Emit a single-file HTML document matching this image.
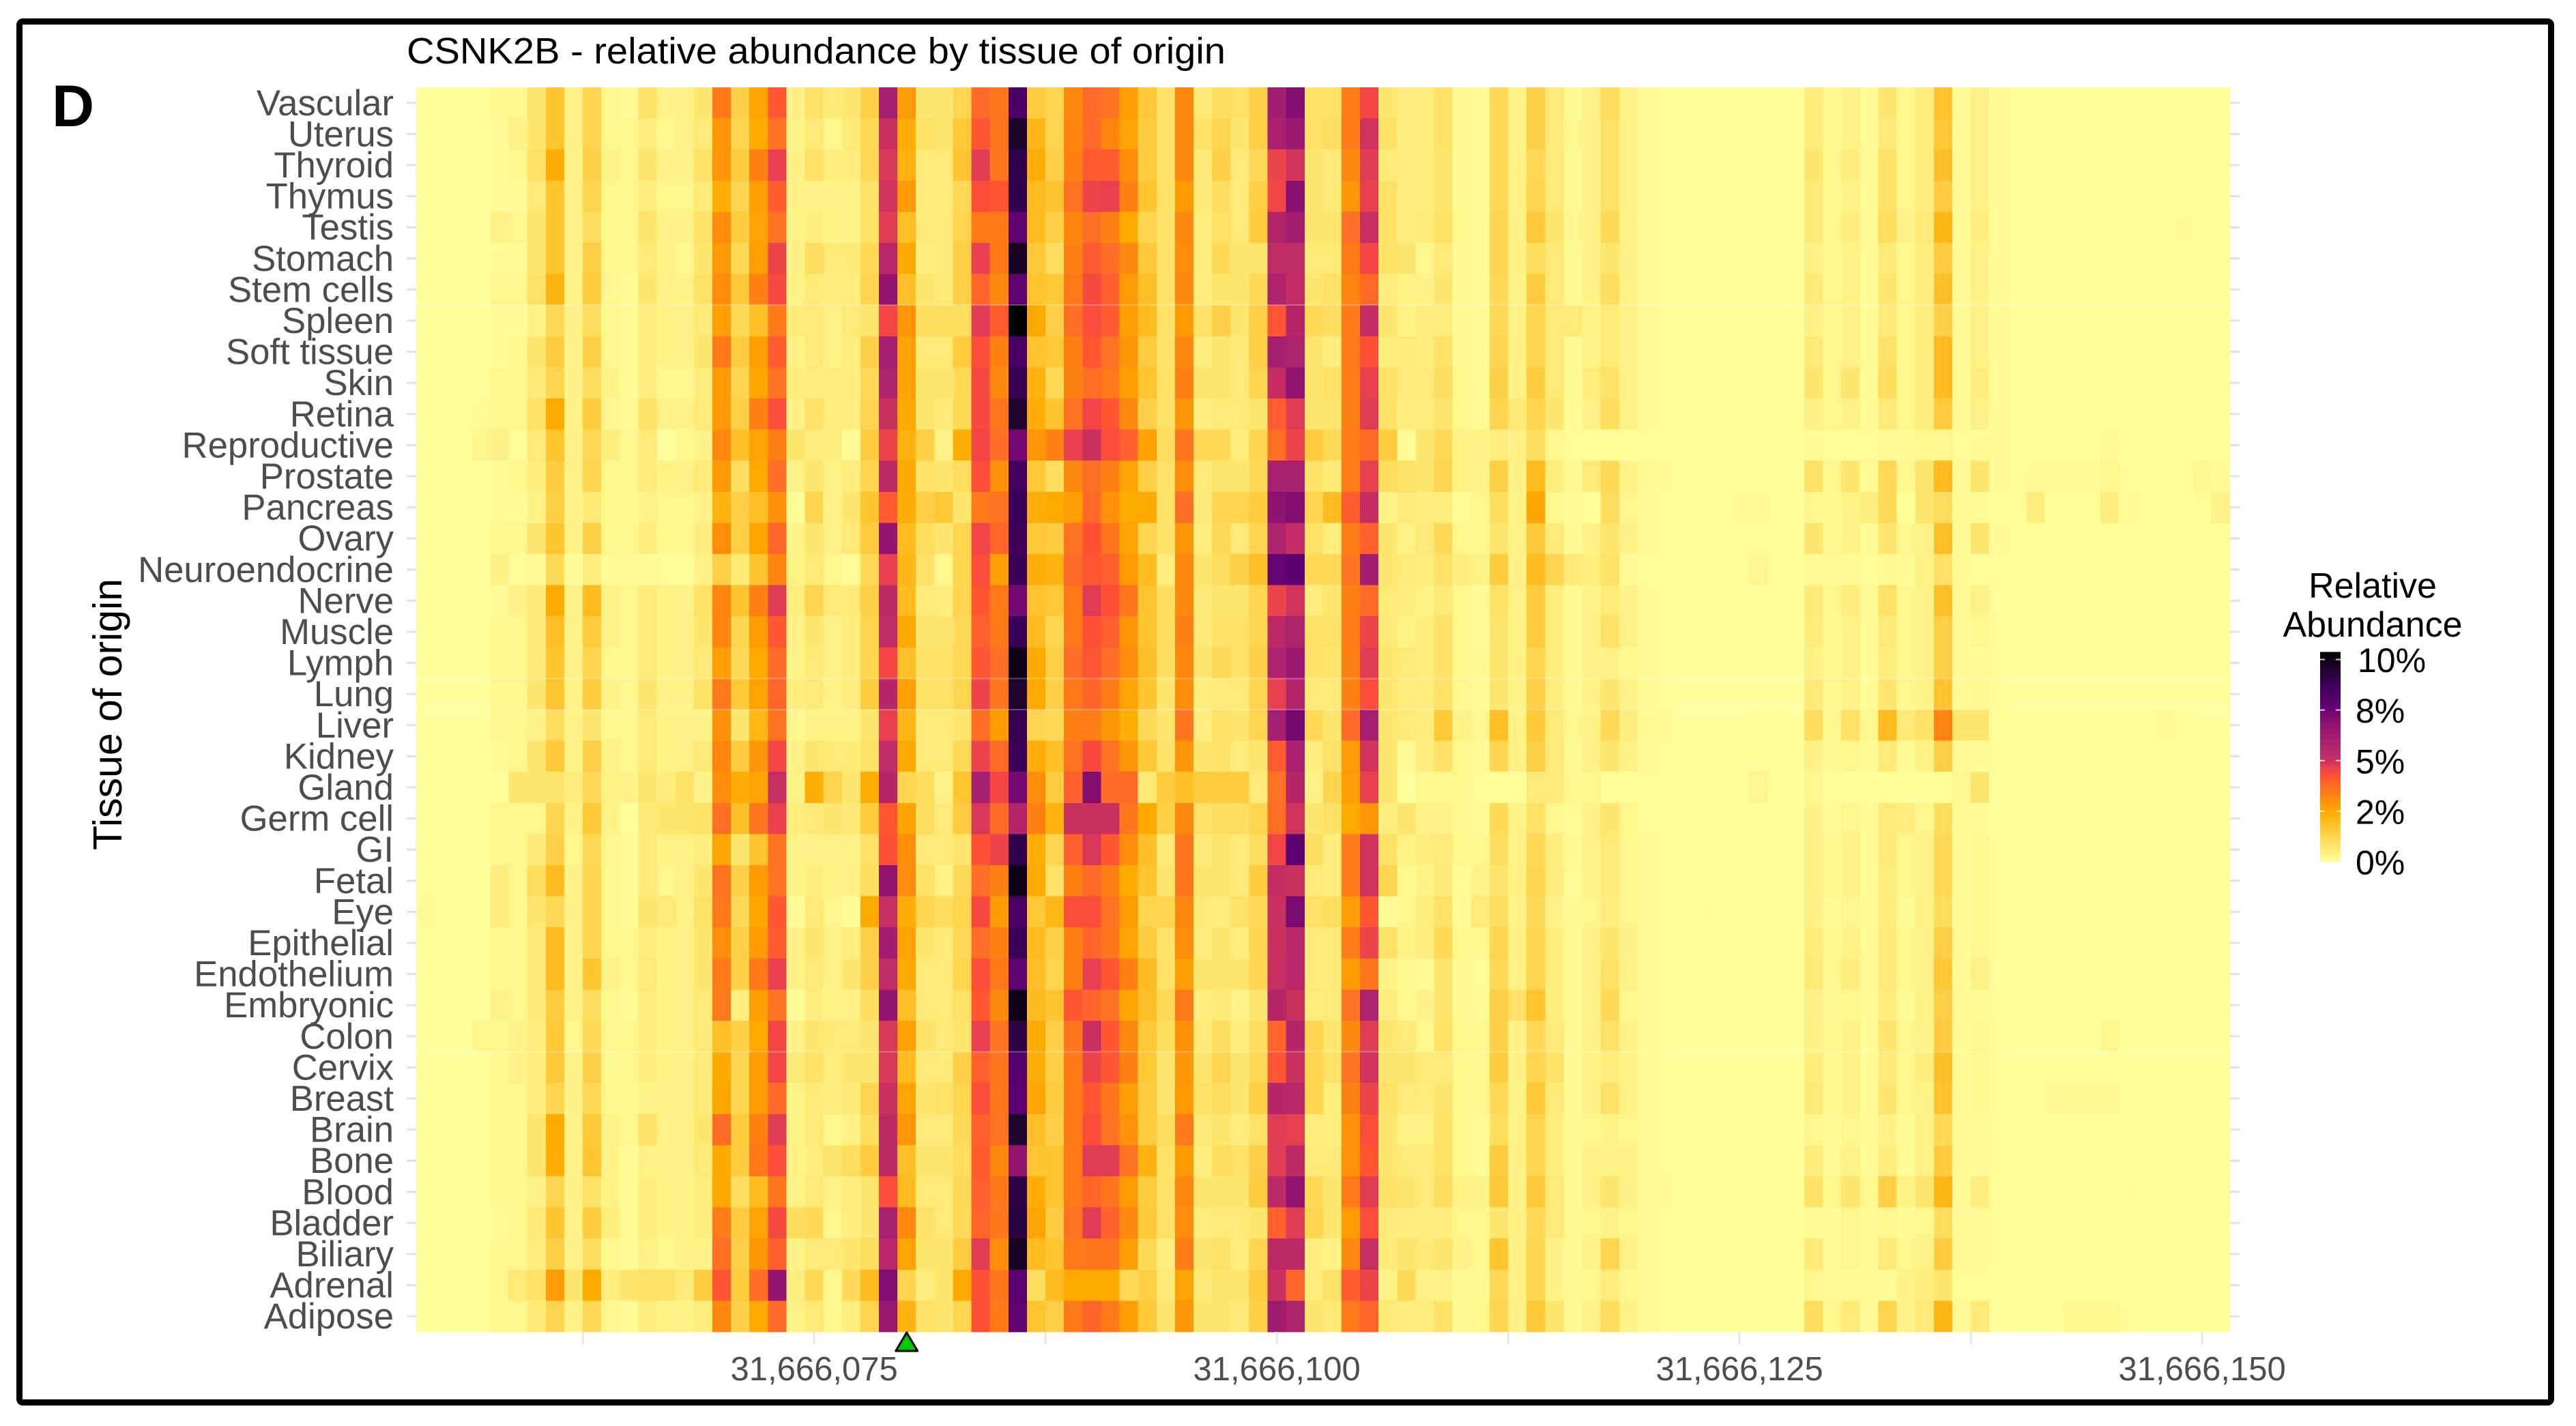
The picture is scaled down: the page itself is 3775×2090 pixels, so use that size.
<!DOCTYPE html>
<html lang="en">
<head>
<meta charset="utf-8">
<title>CSNK2B - relative abundance by tissue of origin</title>
<style>
html,body{margin:0;padding:0;background:#fff;}
svg{display:block;font-family:"Liberation Sans",Arial,sans-serif;}
</style>
</head>
<body>
<svg id="chart" xmlns="http://www.w3.org/2000/svg" width="3775" height="2090" viewBox="0 0 3775 2090">
  <rect x="0" y="0" width="3775" height="2090" fill="#ffffff"/>
  <rect x="28.5" y="31.5" width="3710" height="2024" rx="5" fill="none" stroke="#000000" stroke-width="9"/>
  <text x="76" y="185" font-size="86" font-weight="700" fill="#000">D</text>
  <text x="596" y="93" font-size="54" fill="#000" textLength="1200" lengthAdjust="spacingAndGlyphs">CSNK2B - relative abundance by tissue of origin</text>
  <text transform="translate(178,1047) rotate(-90)" text-anchor="middle" font-size="59" fill="#000">Tissue of origin</text>
  <g id="cells" shape-rendering="crispEdges"></g>
  <g id="y-axis"></g>
  <g id="x-axis"></g>
  <polygon id="marker" fill="#00c800" stroke="#000" stroke-width="3" stroke-linejoin="round"/>
  <g id="legend">
    <text x="3477" y="876" text-anchor="middle" font-size="52" fill="#000">Relative</text>
    <text x="3477" y="933" text-anchor="middle" font-size="52" fill="#000">Abundance</text>
  </g>
</svg>
<script>
const tissues = ["Vascular","Uterus","Thyroid","Thymus","Testis","Stomach","Stem cells","Spleen","Soft tissue","Skin","Retina","Reproductive","Prostate","Pancreas","Ovary","Neuroendocrine","Nerve","Muscle","Lymph","Lung","Liver","Kidney","Gland","Germ cell","GI","Fetal","Eye","Epithelial","Endothelium","Embryonic","Colon","Cervix","Breast","Brain","Bone","Blood","Bladder","Biliary","Adrenal","Adipose"];
const firstPosition = 31666054;
const xTickValues = [31666062.5,31666075,31666087.5,31666100,31666112.5,31666125,31666137.5,31666150];
const xLabelValues = [31666075,31666100,31666125,31666150];
const xLabelText = ["31,666,075","31,666,100","31,666,125","31,666,150"];
const markerPosition = 31666080;
const legendBreaks = [0,2,5,8,10];
const legendLabels = ["0%","2%","5%","8%","10%"];
const seamRows = [7,19,20,31];

const vascular = [0,0,0,0,.2,.2,.6,1.4,.3,1, .2,.1,.7,.3,.3,.6,3.2,1.1,2.2,4, .3,.7,.5,.6,1.1,6.3,2.4,.6,.6,1, 3.6,3.3,8.6,1.2,1,2.8,3.6,3.4,2.3,1.3, .7,2.8,.5,.8,.7,1.1,6.4,7.5,.7,.7, 3.1,4.4,.6,.4,.4,.7,.15,.1,.9,.3, 1.1,.5,.15,.3,.8,.3,.1,.05,0,0, 0,0,0,0,0,.4,.2,.3,.1,.6, .2,.4,1.4,.1,.3,.1,0,0,0,0, 0,0,0,0,0,0,0,0];
const uterus = [0,0,0,0,.1,.3,.6,1.4,.3,1, .2,.2,.4,.2,.3,.5,2.5,1,2,3.4, .3,.5,.2,.5,.9,5,1.9,.7,.6,1.3, 4,3.3,9.7,1.7,1,2.9,3.6,2.9,2.2,1.2, .7,2.8,.7,1,.6,1.1,6.1,6.7,.7,.8, 3.2,4.9,.7,.4,.4,.7,.15,.1,.9,.3, 1.1,.5,.2,.3,.7,.3,.1,.05,0,0, 0,0,0,0,0,.4,.2,.3,.1,.5, .2,.4,1.3,.1,.3,.1,0,0,0,0, 0,0,0,0,0,0,0,0];
const thyroid = [0,0,0,0,.1,.2,.7,1.9,.3,1.1, .3,.2,.6,.3,.3,.7,2.5,1.2,3,4.6, .3,.7,.4,.4,.9,4.8,1.8,.5,.5,1.4, 4.7,3.3,9.2,1.9,1.1,3,3.9,3.9,2.7,1.2, .7,2.8,.5,1.1,.5,.9,4.5,4.9,.6,.5, 2.8,4.7,.5,.4,.4,.6,.15,.1,.9,.3, .9,.5,.15,.3,.7,.3,.1,.05,0,0, 0,0,0,0,0,.6,.2,.4,.1,.7, .2,.4,1.5,.1,.3,.1,0,0,0,0, 0,0,0,0,0,0,0,0];
const thymus = [0,0,0,0,.1,.1,.5,1.4,.3,1, .2,.2,.4,.2,.2,.5,1.9,1,2.3,3.9, .3,.3,.3,.3,.7,4.9,2.4,.5,.5,.9, 4.2,4,9.2,1.6,1.4,3.4,4.5,4.6,3,1.4, .7,2.4,.5,.8,.5,1.1,4.4,7.4,.6,.5, 2.5,4.6,.7,.4,.4,.6,.15,.1,.9,.3, 1,.5,.15,.3,.7,.3,.1,.05,0,0, 0,0,0,0,0,.5,.2,.3,.1,.7, .2,.4,1.2,.1,.3,.1,0,0,0,0, 0,0,0,0,0,0,0,0];
const testis = [0,0,0,0,.3,.2,.6,1.4,.3,.8, .2,.2,.6,.3,.3,.7,2.7,1.2,2.2,3.4, .3,.4,.3,.3,.7,4.7,1.5,.5,.5,1, 3.2,3.2,8.2,1.6,1.1,2.9,3.5,3,2,1, .7,2.8,.4,.7,.5,1.2,5.8,6.4,.6,.6, 3.5,5.1,.7,.4,.5,.7,.2,.1,1,.3, 1.3,.6,.2,.3,.9,.3,.1,.05,0,0, 0,0,0,0,0,.5,.2,.4,.1,.8, .3,.5,1.7,.1,.4,.1,0,0,0,0, 0,0,0,0,0,.1,0,0];
const stomach = [0,0,0,0,.1,.1,.6,1.4,.3,1.1, .2,.2,.5,.3,.2,.6,2.4,.9,2.3,4.5, .3,.8,.5,.5,.9,5.6,2,.4,.5,1.1, 4.6,3.2,9.8,1.3,.8,3,3.9,3.5,2.8,1.3, .7,2.7,.4,.9,.6,.6,5.3,5.3,.5,.5, 3.2,4.4,.7,.6,.2,.5,.15,.1,1,.3, .8,.5,.15,.3,.6,.3,.1,.05,0,0, 0,0,0,0,0,.3,.2,.3,.1,.5, .2,.4,1.2,.1,.3,.1,0,0,0,0, 0,0,0,0,0,0,0,0];
const stemCells = [0,0,0,0,.2,.2,.7,1.8,.3,1.2, .2,.1,.6,.3,.3,.7,2.7,1.3,3,4.3, .3,.5,.4,.4,1,7,1.5,.6,.5,1.1, 3.7,2.8,8.2,1.4,1.3,3.2,4.3,3.8,2.4,1.5, .7,2.8,.4,.6,.6,.9,6,5.2,.6,.7, 2.9,3.6,.4,.3,.3,.6,.15,.1,.9,.3, 1.2,.5,.15,.3,.8,.3,.1,.05,0,0, 0,0,0,0,0,.5,.2,.3,.1,.6, .2,.4,1.5,.1,.3,.1,0,0,0,0, 0,0,0,0,0,0,0,0];
const spleen = [0,0,0,0,.1,.1,.3,.9,.3,.8, .2,.1,.4,.3,.3,.5,2.3,.9,1.5,3.2, .5,.5,.3,.5,.6,4.4,2.5,.8,.8,.8, 4.7,3.9,10.3,2,1.1,3.5,4.2,3.9,2.3,1.6, .7,2.4,.7,1.1,.6,1.1,4,5.7,.9,.8, 3.2,5.2,.6,.3,.4,.4,.15,.1,.9,.3, 1,.5,.5,.3,.5,.3,.1,.05,0,0, 0,0,0,0,0,.3,.2,.3,.1,.5, .2,.4,1.1,.1,.3,.1,0,0,0,0, 0,0,0,0,0,0,0,0];
const softTissue = [0,0,0,0,.1,.2,.6,1.2,.3,1.1, .2,.1,.4,.3,.3,.6,3.2,1.2,2.3,3.9, .3,.5,.3,.4,1.1,6.3,2.2,.5,.5,1.2, 4.2,3,8.7,1.4,1.3,3,4,3.4,2.5,1.2, .7,2.8,.4,.6,.5,1.1,6.3,6,.6,.4, 3.2,4.1,.4,.5,.4,.7,.15,.1,1,.3, 1,.5,.15,.3,.5,.3,.1,.05,0,0, 0,0,0,0,0,.5,.2,.3,.1,.7, .2,.4,1.6,.1,.3,.1,0,0,0,0, 0,0,0,0,0,0,0,0];
const skin = [0,0,0,0,.2,.2,.5,1,.3,.8, .3,.1,.4,.2,.2,.4,2.4,1,2.1,3.4, .4,.4,.4,.4,.9,6,2.2,.6,.6,.9, 4.3,2.8,9.1,1.8,.9,3,3.5,3.2,2.3,1.4, .7,3,.6,.6,.5,1,5.2,7,.6,.7, 3.1,4.6,.7,.5,.5,.8,.2,.1,1.1,.3, 1.2,.5,.15,.4,.7,.3,.1,.05,0,0, 0,0,0,0,0,.6,.2,.6,.1,.8, .2,.4,1.6,.1,.4,.1,0,0,0,0, 0,0,0,0,0,0,0,0];
const retina = [0,0,0,.1,.2,.2,.7,2,.3,1.2, .2,.1,.7,.3,.3,.5,2.4,1.1,3,4.2, .3,.7,.4,.4,1,5,2,.6,.5,.9, 4.3,3.3,9.6,1.9,1.4,3.4,4.4,4,2.8,1.1, .7,2.5,.4,.5,.5,.6,3.9,4.7,.6,.6, 3,4.7,.7,.4,.4,.6,.2,.1,1,.5, 1,.6,.1,.3,.8,.3,.1,.05,0,0, 0,0,0,0,0,.3,.2,.3,.1,.5, .2,.4,1.2,.1,.3,.1,0,0,0,0, 0,0,0,0,0,0,0,0];
const reproductive = [0,0,0,.2,.3,.05,.5,1.4,.3,.9, .4,.2,.5,0,.2,.3,2.8,1.5,2.2,3, .6,.4,.4,.1,1.2,4.5,1.8,1.1,.3,1.9, 4.4,3.5,7.8,2.5,3,4.6,5,4.2,3.8,2.2, .8,3.3,.9,.9,.4,1,3.5,4.5,1.2,.9, 3.1,3.6,1.2,.1,.6,.9,.3,.3,.4,.3, .8,.2,.05,.05,.05,.05,.05,0,0,0, 0,0,0,0,0,.1,.05,0,.05,.1, .1,.2,.2,.05,.1,.1,0,0,0,0, 0,.1,0,0,0,0,0,0];
const prostate = [0,0,0,0,.1,.2,.4,1.2,.3,1, .2,.2,.5,.3,.3,.5,2.4,.8,2,3.5, .3,.6,.3,.4,1,5.4,2,.7,.6,.8, 4.2,2.6,8.8,1.3,.8,2.8,3.5,3,2.2,1.1, .7,2.7,.5,.6,.6,.9,6.2,6.2,.7,.5, 3.1,4.6,.8,.7,.6,1,.3,.3,1.1,.3, 1.6,.4,.15,.5,.9,.3,.15,.1,0,0, 0,0,0,0,0,.7,.2,.6,.1,.9, .2,.6,1.6,.1,.6,.1,.05,.1,.1,.1, .1,.2,.05,.05,.05,.05,.2,.1];
const pancreas = [0,0,0,0,.1,.1,.3,1.1,.3,.5, .2,.2,.3,.2,.2,.3,1.8,1.1,1.5,2.6, .1,1,.3,.6,1.4,3.9,1.9,1.1,1.3,.6, 3.2,3.4,9,1.9,2,2.3,3.6,2.6,2,2, .7,3.5,.5,1,1,1.2,7.2,7.5,1,1.6, 3.9,5.2,.3,.5,.4,.4,.1,.2,.8,.3, 2.1,.2,.1,0,.8,.2,.1,.05,0,0, 0,.1,.1,.05,0,.2,.2,.3,.4,.9, 0,.6,.8,.1,.1,0,0,.4,0,.05, .05,.4,.1,.05,.05,.05,.05,.3];
const ovary = [0,0,0,0,.2,.2,.6,1.4,.3,1.1, .2,.2,.4,.2,.2,.4,2.7,1.1,2.1,3.7, .3,.6,.3,.5,1.2,7,1.6,.8,.6,1, 4.4,3.7,8.9,1.3,1.2,3.4,4.1,3.3,2.2,1, .7,2.5,.4,.9,.5,1,6,5.2,.7,.4, 3.1,3.8,.6,.3,.5,.9,.2,.2,.6,.3, 1.3,.5,.15,.3,.6,.3,.1,.05,0,0, 0,0,.05,0,0,.6,.2,.3,.1,.6, .2,.3,1.5,.1,.6,.1,0,0,0,0, 0,0,0,0,0,.05,0,0];
const neuroendocrine = [0,0,0,0,.3,.05,.1,.9,.1,.4, .1,.1,.1,.05,.05,.3,1.1,.5,1.4,2.9, .3,.5,.2,.1,.9,4.6,1.7,.7,.2,1, 4.2,2.3,9,1.9,1.8,3.6,4,3.8,2.4,1.6, .4,2.8,.6,.8,1.1,1.5,8.1,8.3,.9,.9, 3.4,6.4,.6,.5,.4,.7,.4,.3,1.2,.3, 1.6,1,.5,.4,.7,.1,.05,0,0,0, 0,0,.2,0,0,.1,.1,.1,.05,.15, .1,.3,.7,.1,.05,.05,0,0,0,0, 0,0,0,0,.05,.05,0,0];
const nerve = [0,0,0,0,.1,.3,.5,2,.3,1.6, .3,.2,.5,.3,.3,.7,2.9,1.4,3,4.7, .4,1,.5,.5,1.1,5.4,1.6,.5,.4,1, 4,3.2,7.8,1.4,1.3,3.2,4.7,4.1,3.3,1.4, .8,2.8,.5,.6,.6,1,4.5,4.9,.4,.6, 3,3.6,.5,.4,.3,.5,.2,.1,.7,.3, 1.2,.4,.15,.3,.5,.3,.1,.05,0,0, 0,0,0,0,0,.5,.2,.4,.1,.7, .2,.3,1.5,.1,.3,.05,0,0,0,0, 0,0,0,0,0,0,0,0];
const muscle = [0,0,0,0,.2,.2,.5,1.5,.3,1.2, .3,.2,.5,.3,.3,.6,2.9,1,2.4,4, .3,.6,.3,.4,1,5.3,2,.6,.6,.9, 3.8,3.2,9,1.6,1,3.2,4.1,3.8,2.5,1.4, .8,3,.5,.7,.7,1,5.5,6,.7,.7, 3.1,4.5,.5,.3,.4,.7,.2,.1,.6,.3, 1.2,.4,.15,.3,.7,.3,.1,.05,0,0, 0,0,0,0,0,.4,.2,.3,.1,.5, .2,.3,1.1,.1,.2,.05,0,0,0,0, 0,0,0,0,0,0,0,0];
const lymph = [0,0,0,0,.2,.2,.5,1.4,.3,1, .2,.2,.5,.3,.3,.5,2.3,.9,2,3.6, .3,.5,.3,.4,1,4.4,1.5,.7,.7,.9, 4,3.5,10,2,1.1,3.5,4,3.5,2.7,1.5, .8,2.8,.6,.9,.7,1.1,6,6.7,.7,.6, 3,4.7,.6,.5,.4,.7,.2,.15,.6,.3, 1,.4,.15,.3,.3,.2,.1,.05,0,0, 0,0,0,0,0,.3,.2,.3,.1,.4, .2,.3,1.1,.1,.1,.05,0,0,0,0, 0,0,0,0,0,0,0,0];
const lung = [0,0,0,0,.2,.2,.6,1.4,.3,1.2, .3,.2,.6,.3,.3,.7,3.2,1.3,2.2,3.7, .4,.5,.3,.4,1.2,5.7,2.3,.7,.7,1, 4.5,3.3,9.6,2,1.1,3.2,3.7,3.1,2.2,1.4, .6,2.7,.4,.5,.5,1,4.6,5.8,.5,.5, 3,4.2,.6,.4,.4,.7,.2,.1,.6,.3, 1.1,.4,.15,.3,.6,.3,.1,.05,0,0, 0,0,0,0,0,.5,.2,.3,.1,.6, .2,.3,1.4,.1,.2,.05,0,0,0,0, 0,0,0,0,0,0,0,0];
const liver = [0,0,0,0,.2,.2,.3,.8,.3,.6, .2,.2,.5,.3,.3,.3,2.6,.6,1.7,3.4, .2,.3,.3,.3,.6,4.6,1.7,.5,.5,.6, 3.5,2.4,9.1,1,.9,3,3.1,2.5,1.9,.9, .6,3.3,.4,.7,.6,1,6.3,7.8,.9,.6, 3.6,6.3,.6,.5,.4,1.3,.3,.2,1.5,.3, 1.3,.5,.2,.3,.9,.4,.15,.1,0,0, 0,0,.05,.05,0,.8,.2,.7,.2,1.6, .5,.7,2.9,.6,.6,.05,.05,.05,.05,.05, .05,.05,.05,.05,.1,.05,0,0];
const kidney = [0,0,0,0,.1,.2,.6,1.3,.3,1.1, .3,.2,.5,.3,.3,.5,2.9,1.2,2.5,4.4, .3,.6,.5,.5,.7,5.3,2,.5,.5,.9, 4.5,3.6,9,1.9,1.5,3.4,4.3,3.4,2.5,1.3, .7,2.5,.6,.7,.4,.6,3.9,6.1,.4,.7, 2.4,4.9,.6,.1,.4,.7,.2,.1,1,.3, 1.1,.5,.15,.3,.6,.3,.1,.05,0,0, 0,0,0,0,0,.3,.15,.2,.1,.5, .1,.3,1.1,.1,.1,.05,0,0,0,0, 0,0,0,0,0,0,0,0];
const gland = [0,0,0,0,0,.6,.6,.6,.4,.9, .3,.3,.6,.4,.7,.3,2.7,1.9,2.2,5.1, .3,1.9,1,.6,1.9,5.7,1,.8,.3,1.4, 6.3,4.4,7.8,2.7,1.2,3.8,7.5,3.6,3.6,.5, 1.2,1.5,1.2,1.2,1.2,.5,3.4,5.7,.3,1, 2.3,4.6,.6,0,.2,.2,.2,.05,.05,.05, .5,.5,.2,.2,.05,.05,.05,0,0,0, 0,0,.2,0,0,.2,0,0,0,0, 0,0,.05,.2,.6,0,0,0,0,0, 0,0,0,0,0,0,0,0];
const germCell = [0,0,0,0,.2,.2,.2,1,.3,1.3, .3,0,.5,.6,.6,.7,3.5,1.5,3.3,4.6, .4,.5,.6,.5,1.2,4,2.2,.8,.5,1.2, 4.8,3.6,5.8,3,1.8,5,5,5,3.3,2, 1.1,2.8,.7,.8,.8,1,3.5,4.9,.6,.7, 2,2.5,.4,.6,.3,.3,.2,.1,.9,.3, .7,.2,.1,.3,.6,.2,.05,0,0,0, 0,0,0,0,0,.3,.1,.2,.1,.5, .4,.2,.8,.1,.1,0,0,0,0,0, 0,0,0,0,0,.05,0,0];
const gi = [0,0,0,0,.2,.2,.5,1.1,.2,.9, .2,.1,.5,.3,.3,.4,2.1,.6,1.4,3.4, .3,.3,.3,.3,.7,4.1,2.7,.5,.5,.6, 4.1,4.5,9.2,1.9,1,3.8,4.8,4,2.7,1.5, .5,3.3,.5,.6,.5,.8,4.4,8.3,.8,.4, 3.2,4.9,.7,.3,.4,.5,.2,.2,.8,.3, .9,.4,.15,.3,.5,.2,.1,.05,0,0, 0,0,0,0,0,.3,.2,.3,.1,.5, .2,.3,.9,.1,.2,.05,0,0,0,0, 0,0,0,0,0,0,0,0];
const fetal = [0,0,0,0,.4,.2,.8,1.6,.3,1, .2,.1,.5,.2,.3,.6,3.4,1.1,2.4,3.4, .3,.4,.3,.3,.8,7,2.7,.7,.3,.9, 3.5,3,10,2,.7,3,3.6,3,2,1.4, .6,3.3,.6,.6,.5,1.2,5.2,5,.5,.4, 3.2,4.9,1,.2,.3,.5,.1,.3,.6,.3, 1,.4,.1,.3,.5,.2,.1,.05,0,0, 0,0,0,0,0,.3,.2,.3,.1,.4, .2,.3,.9,.1,.2,.05,0,0,0,0, 0,0,0,0,0,0,0,0];
const eye = [.1,0,0,0,.4,.2,.6,.9,.3,1, .2,.1,.6,.5,.3,.7,3.2,.9,2.1,4, .1,.5,.2,.1,2,5.1,1.9,1,.8,1, 4.3,2.4,8.7,1.3,1.7,4.2,4.2,3.4,2.4,1, 1,2.8,.5,.4,.7,.9,5,7.7,.7,.8, 2.3,4,.1,.2,.4,.7,.1,.5,.8,.3, .9,.3,.15,.2,.4,.2,.1,.05,.05,.05, 0,0,0,0,0,.3,.1,.2,.1,.4, .1,.3,.8,.1,.2,.05,0,0,.05,0, 0,0,0,0,0,0,0,0];
const epithelial = [0,0,0,0,.2,.2,.5,1.6,.3,1, .2,.2,.4,.3,.3,.6,2.7,1.1,2.4,3.9, .3,.6,.3,.4,1.1,6.4,2.2,.6,.5,.9, 3.5,3,9,1.6,1.1,3,3.7,3.3,2.2,1.2, .7,2.7,.4,.6,.4,1,5,5.6,.5,.5, 3.1,4.5,.7,.3,.4,.9,.2,.2,1,.3, 1,.4,.15,.3,.6,.3,.1,.05,0,0, 0,0,0,0,0,.4,.2,.3,.1,.5, .2,.3,1.1,.1,.2,.05,0,0,0,0, 0,0,0,0,0,0,0,0];
const endothelium = [0,0,0,0,.2,.2,.5,1.6,.3,1.4, .3,.2,.5,.3,.3,.6,3.2,1.1,3.2,4.6, .3,.5,.3,.6,1.1,5.3,2,.5,.5,1, 4.2,3.2,8.2,1.5,1,3,4.6,4,3,1.6, .7,2.3,.6,.6,.6,1,5.1,5.6,.5,.5, 2.4,3.3,.3,.2,.1,.6,.15,.05,.9,.3, 1,.4,.15,.3,.7,.3,.1,.05,0,0, 0,0,0,0,0,.5,.2,.4,.1,.5, .2,.3,1.3,.1,.3,.05,0,0,0,0, 0,0,0,0,0,0,0,0];
const embryonic = [0,0,0,0,.3,.2,.5,1.2,.3,.8, .2,.1,.4,.3,.3,.5,3.2,.4,2.3,3.4, .1,.4,.3,.3,.8,7,1.5,.5,.5,.7, 4,2.8,10,1.6,1.4,4,3.7,3.4,2.2,1.5, .9,3.2,.4,.5,.3,.6,5.7,5,.4,.5, 3.4,6,.4,.2,.3,.6,.15,.1,1.1,.7, 1.4,.4,.15,.3,.9,.2,.1,.05,0,0, 0,0,0,0,0,.3,.15,.2,.1,.4, .1,.3,1.1,.1,.1,.05,0,0,0,0, 0,0,0,0,0,0,0,0];
const colon = [0,0,0,.2,.2,.3,.4,1.3,.2,.9, .2,.2,.4,.3,.3,.5,1.5,1.1,2,4.4, .3,.6,.5,.5,.6,4.8,2.2,.7,.5,.6, 4.6,3.4,9.3,2,1.1,3.3,5,4,2.8,1.3, .8,2.6,.5,.8,.4,.8,3.7,5.7,1,.6, 2.8,4.7,.6,.5,.2,.7,.2,.2,1.1,.3, .9,.5,.15,.3,.7,.3,.1,.05,0,0, 0,0,0,0,0,.3,.2,.3,.1,.6, .2,.3,1.2,.1,.2,.05,0,0,0,0, 0,.2,0,0,0,0,0,0];
const cervix = [.05,0,0,0,.2,.3,.4,1.3,.3,1.1, .2,.2,.4,.3,.3,.5,2,1,2.4,4.4, .5,.7,.4,.6,.6,4.8,1.6,.5,.5,1.1, 3.8,3.3,8.4,1.9,1.1,3.2,4.5,4,3,1.3, .6,2.5,.6,1,.6,.9,4,5,1,.7, 3.4,4.9,.6,.6,.5,.5,.2,.2,1.2,.3, 1,.7,.15,.3,.4,.3,.1,.05,0,0, 0,0,0,0,0,.4,.2,.3,.1,.5, .2,.4,1.5,.1,.2,.05,0,0,0,0, 0,0,0,0,0,0,0,0];
const breast = [0,0,0,0,.2,.2,.4,1,.3,.9, .2,.2,.3,.3,.3,.5,2.1,1,2.4,3.6, .3,.5,.4,.5,1,5,2.1,.6,.7,1, 4.2,3.3,8.3,2.1,1.2,3.2,4,3.3,2.3,1.2, .6,2.4,.7,.8,.6,1.1,5.7,5.6,1,.4, 3,4.5,.7,.5,.4,.6,.2,.2,.9,.3, 1.3,.5,.15,.3,.7,.3,.1,.05,0,0, 0,0,0,0,0,.5,.2,.3,.1,.6, .2,.3,1.4,.1,.2,.05,0,0,.15,.15, .15,.15,0,0,.05,.05,0,0];
const brain = [0,0,0,0,.2,.2,.6,2,.3,1.3, .3,.2,.7,.3,.3,.6,3.6,1.2,3,4.7, .3,.5,.2,.3,.8,5.4,2.5,.5,.5,.9, 3.8,3.4,9.6,1.5,1.1,3.2,4.2,3.4,2.6,1.2, .8,3.2,.5,.6,.4,.7,4.7,4.6,.4,.4, 2.6,4.2,.6,.3,.3,.7,.2,.1,.8,.3, 1,.4,.15,.2,.3,.2,.1,.05,0,0, 0,0,0,0,0,.2,.1,.2,.1,.3, .1,.3,.9,.1,.1,.05,0,0,0,0, 0,0,0,0,0,0,0,0];
const bone = [0,0,0,0,.2,.2,.6,1.9,.3,1.4, .3,.1,.3,.3,.3,.5,2,1.2,3.2,4.2, .3,.4,.6,.8,1.2,5.4,1.5,.6,.6,.8, 3.9,2.8,7,1.4,1.4,3.2,4.7,4.7,3.4,1.8, .7,2.4,.4,.8,.7,1.1,4.7,5.4,.5,.5, 2.6,4,.6,.5,.5,.7,.2,.1,1.2,.3, 1,.4,.15,.3,.3,.3,.1,.05,0,0, 0,0,0,0,0,.4,.1,.3,.1,.4, .1,.3,1.2,.1,.1,.05,0,0,0,0, 0,0,0,0,0,0,0,0];
const blood = [0,0,0,0,.2,.2,.3,1,.3,.7, .3,.1,.4,.3,.3,.4,2,.8,1.6,3.3, .3,.5,.3,.4,.6,4.2,1.6,.5,.5,.9, 3.8,3.2,9.3,1.9,1.4,3.2,3.7,3.3,2.4,1.2, .7,2.8,.6,.6,.6,1.2,5.5,7,.9,.6, 3.2,4.7,.7,.6,.5,.8,.3,.3,1.3,.3, 1.3,.5,.15,.3,.6,.3,.1,.1,0,0, 0,0,0,0,0,.7,.2,.6,.2,1.1, .3,.6,1.7,.1,.4,.05,.05,.05,.05,.05, .05,.05,.05,0,0,0,.05,.05];
const bladder = [0,0,0,0,.1,.2,.5,1.4,.3,1.2, .4,.1,.4,.3,.3,.4,3.1,1.2,2.2,4.3, .8,.9,.2,.4,.6,6.2,2.8,.7,.5,.9, 3.7,3.3,9.4,2.2,1.2,3.4,4.7,3.8,2.8,1.3, .7,2.7,.4,.5,.5,.6,3.8,4.7,1,.6, 2.4,4.2,.5,.4,.4,.4,.2,.2,.6,.3, .9,.5,.15,.2,.3,.2,.1,.05,0,0, 0,0,0,0,0,.1,.1,.2,.1,.2, .1,.2,.8,.1,.1,.05,0,0,0,0, 0,0,0,0,0,0,0,0];
const biliary = [0,0,0,0,.2,.2,.4,1.1,.3,.8, .2,.1,.3,.2,.3,.3,3.5,1.1,2.5,3.8, .3,.5,.5,.6,.8,5.6,2.2,.6,.6,1.2, 4.7,2.7,9.8,1.6,1.4,3.2,3.3,3.3,2.3,.9, .4,3.1,.6,.7,.4,1,5.5,5.4,.4,.3, 2.8,5.1,.5,.6,.5,.6,.3,.2,1.4,.3, 1,.3,.15,.3,1,.3,.1,.05,0,0, 0,0,0,0,0,.5,.1,.2,.1,.5, .2,.3,1.2,.1,.1,.05,0,0,0,0, 0,0,0,0,0,0,0,0];
const adrenal = [0,0,0,0,.2,.5,.7,2.4,.6,2, .4,.6,.7,.7,.5,1.2,4,1.2,3.5,7, .4,.9,.2,.9,1.6,7.5,1,.4,.6,2, 4.1,3.3,8.3,.8,1.6,2,2,2,.9,1.1, .5,2.2,.5,.6,.6,1.2,5,3.7,.4,.7, 3.9,4.5,.3,.9,.3,.3,.15,.15,.9,.3, 1,.3,.15,.2,.4,.2,.1,.05,0,0, 0,0,0,0,0,.2,.1,.1,.1,.1, .3,.4,.6,.05,.05,.05,0,0,0,0, 0,0,0,0,0,0,0,0];
const adipose = [0,0,0,0,.2,.2,.5,1,.3,.9, .2,.1,.4,.3,.3,.4,2.8,1.1,2,3.6, .3,.5,.2,.4,1,6.8,1.8,.7,.6,1, 4.1,3.2,8.2,1.4,1.1,3.2,3.7,3.2,2.3,1.3, .6,2.5,.6,.6,.5,1.1,6.6,6,.6,.5, 3.2,3.7,.5,.4,.4,.7,.15,.2,1,.3, 1.3,.6,.15,.3,.8,.3,.1,.05,0,0, 0,0,0,0,0,.8,.2,.5,.1,1, .3,.5,1.7,.1,.5,.05,0,0,0,.2, .2,.2,.05,.05,.05,.05,0,0];

const abundance = [vascular,uterus,thyroid,thymus,testis,stomach,stemCells,spleen,softTissue,skin,retina,reproductive,prostate,pancreas,ovary,neuroendocrine,nerve,muscle,lymph,lung,liver,kidney,gland,germCell,gi,fetal,eye,epithelial,endothelium,embryonic,colon,cervix,breast,brain,bone,blood,bladder,biliary,adrenal,adipose];

const SVG_NS = 'http://www.w3.org/2000/svg';
const plot = {left:610, top:128, bandW:27.12, bandH:45.6, right:3268, bottom:1952};
const rampAt = [0,2,2.9,3.6,4.1,4.6,5,6.2,7.4,8.3,9,9.6,10.3];
const rampColor = ['#FFFF9E','#FFAA00','#FF8510','#FF6A28','#FF5035','#E84050','#C83060','#A82070','#881070','#5A0070','#3A0058','#200530','#000000'];

function hexToRgb(h){return [parseInt(h.slice(1,3),16),parseInt(h.slice(3,5),16),parseInt(h.slice(5,7),16)];}
function colorScale(v){
  const c = Math.max(rampAt[0],Math.min(rampAt[rampAt.length-1],v));
  for(let i=1;i<rampAt.length;i++){
    if(c<=rampAt[i]){
      const t=(c-rampAt[i-1])/(rampAt[i]-rampAt[i-1]);
      const a=hexToRgb(rampColor[i-1]),b=hexToRgb(rampColor[i]);
      return 'rgb('+a.map((x,k)=>Math.round(x+(b[k]-x)*t)).join(',')+')';
    }
  }
  return rampColor[rampColor.length-1];
}
function xScale(pos){return plot.left+(pos-firstPosition+0.5)*plot.bandW;}
function yScale(rowIndex){return plot.top+rowIndex*plot.bandH;}
function legendY(v){
  const step=74.1,bottom=1263;
  for(let i=1;i<legendBreaks.length;i++){
    if(v<=legendBreaks[i]){
      return bottom-step*(i-1+(v-legendBreaks[i-1])/(legendBreaks[i]-legendBreaks[i-1]));
    }
  }
  const n=legendBreaks.length-1;
  return bottom-step*(n+(v-legendBreaks[n])/2);
}
function make(tag,attrs){
  const el=document.createElementNS(SVG_NS,tag);
  for(const k in attrs){el.setAttribute(k,attrs[k]);}
  return el;
}

const cellsGroup=document.getElementById('cells');
abundance.forEach(function(row,r){
  row.forEach(function(v,c){
    const pos=firstPosition+c;
    const x0=xScale(pos)-plot.bandW/2;
    const y0=yScale(r);
    const cell=make('rect',{x:x0.toFixed(2),y:y0.toFixed(2),width:(plot.bandW+0.6).toFixed(2),height:(plot.bandH+0.6).toFixed(2),fill:colorScale(v)});
    
    
    cellsGroup.appendChild(cell);
  });
});
seamRows.forEach(function(r){
  const seam=make('rect',{x:plot.left,y:(yScale(r)-1).toFixed(1),width:plot.right-plot.left,height:2,fill:'#ffffff',opacity:0.28});
  
  
  cellsGroup.appendChild(seam);
});

const yAxis=document.getElementById('y-axis');
tissues.forEach(function(name,r){
  const yc=yScale(r)+plot.bandH/2;
  const tickLeft=make('rect',{x:596,y:(yc-1.5).toFixed(1),width:14,height:3,fill:'#e2e2e2'});
  
  
  yAxis.appendChild(tickLeft);
  const tickRight=make('rect',{x:plot.right,y:(yc-1.5).toFixed(1),width:14,height:3,fill:'#e2e2e2'});
  
  
  yAxis.appendChild(tickRight);
  const label=make('text',{x:577,y:(yc+18).toFixed(1),'text-anchor':'end','font-size':52.7,fill:'#4d4d4d'});
  
  
  label.textContent=name;
  yAxis.appendChild(label);
});

const xAxis=document.getElementById('x-axis');
xTickValues.forEach(function(v){
  const tick=make('rect',{x:(xScale(v)-1.5).toFixed(1),y:plot.bottom,width:3,height:18,fill:'#e6e6e6'});
  
  
  xAxis.appendChild(tick);
});
xLabelValues.forEach(function(v,i){
  const label=make('text',{x:xScale(v).toFixed(1),y:2023,'text-anchor':'middle','font-size':49,fill:'#4d4d4d'});
  
  
  label.textContent=xLabelText[i];
  xAxis.appendChild(label);
});

const mx=xScale(markerPosition);
document.getElementById('marker').setAttribute('points',mx+',1953 '+(mx-16)+',1980 '+(mx+16)+',1980');

const legend=document.getElementById('legend');
for(let v=0;v<=10.3;v+=0.05){
  const y1=legendY(v);
  const y2=legendY(v+0.05);
  const swatch=make('rect',{x:3400,y:y2.toFixed(2),width:30,height:(y1-y2+0.6).toFixed(2),fill:colorScale(v),'shape-rendering':'crispEdges'});
  
  
  legend.appendChild(swatch);
}
legendBreaks.forEach(function(v,i){
  const y=legendY(v);
  if(v>0){
    const dashA=make('rect',{x:3400,y:(y-1).toFixed(1),width:7,height:2,fill:'#ffffff',opacity:0.8});
    
    
    legend.appendChild(dashA);
    const dashB=make('rect',{x:3423,y:(y-1).toFixed(1),width:7,height:2,fill:'#ffffff',opacity:0.8});
    
    
    legend.appendChild(dashB);
  }
  const label=make('text',{x:legendLabels[i]==='10%'?3455:3452,y:(y+18.5).toFixed(1),'font-size':50,fill:'#000'});
  
  
  label.textContent=legendLabels[i];
  legend.appendChild(label);
});
</script>
</body>
</html>
